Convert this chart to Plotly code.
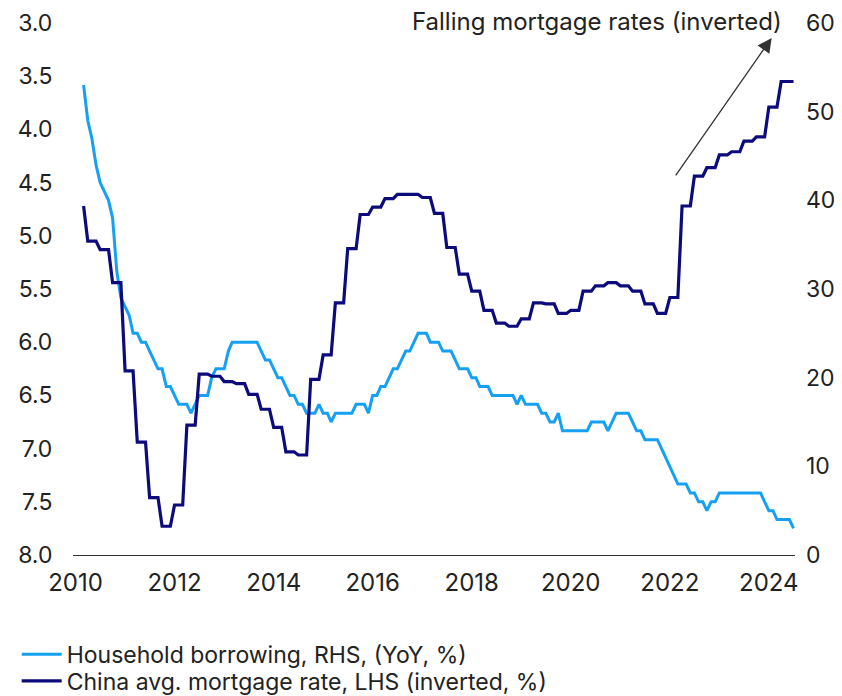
import plotly.graph_objects as go
import pandas as pd

# ---------------- data (monthly, Mar 2010 - Jul 2024) ----------------
first_month = "2010-03-01"

# China average mortgage rate, % (LHS, inverted)
mortgage_rate = [
    4.72,
    5.05, 5.05, 5.05, 5.13, 5.13, 5.13, 5.44, 5.44, 5.44,
    6.27, 6.27, 6.27, 6.94, 6.94, 6.94, 7.46, 7.46, 7.46, 7.73, 7.73, 7.73,
    7.53, 7.53, 7.53, 6.78, 6.78, 6.78, 6.30, 6.30, 6.30, 6.32, 6.32, 6.32,
    6.37, 6.37, 6.37, 6.39, 6.39, 6.39, 6.49, 6.49, 6.49, 6.63, 6.63, 6.63,
    6.80, 6.80, 6.80, 7.03, 7.03, 7.03, 7.06, 7.06, 7.06, 6.35, 6.35, 6.35,
    6.12, 6.12, 6.12, 5.63, 5.63, 5.63, 5.12, 5.12, 5.12, 4.80, 4.80, 4.80,
    4.73, 4.73, 4.73, 4.65, 4.65, 4.65, 4.61, 4.61, 4.61, 4.61, 4.61, 4.61,
    4.64, 4.64, 4.64, 4.79, 4.79, 4.79, 5.11, 5.11, 5.11, 5.36, 5.36, 5.36,
    5.52, 5.52, 5.52, 5.70, 5.70, 5.70, 5.82, 5.82, 5.82, 5.85, 5.85, 5.85,
    5.78, 5.78, 5.78, 5.63, 5.63, 5.63, 5.64, 5.64, 5.64, 5.73, 5.73, 5.73,
    5.70, 5.70, 5.70, 5.52, 5.52, 5.52, 5.47, 5.47, 5.47, 5.44, 5.44, 5.44,
    5.47, 5.47, 5.47, 5.52, 5.52, 5.52, 5.64, 5.64, 5.64, 5.73, 5.73, 5.73,
    5.58, 5.58, 5.58, 4.72, 4.72, 4.72, 4.44, 4.44, 4.44, 4.36, 4.36, 4.36,
    4.24, 4.24, 4.24, 4.21, 4.21, 4.21, 4.11, 4.11, 4.11, 4.07, 4.07, 4.07,
    3.79, 3.79, 3.79, 3.55, 3.55, 3.55, 3.55,
]

# Household borrowing, YoY % (RHS)
household_borrowing = [
    53, 49, 47, 44, 42, 41, 40, 38, 32, 29,
    28, 27, 25, 25, 24, 24, 23, 22, 21, 21,
    19, 19, 18, 17, 17, 17, 16, 17, 18, 18,
    18, 20, 21, 21, 21, 23, 24, 24, 24, 24,
    24, 24, 24, 23, 22, 22, 21, 20, 20, 19,
    18, 18, 17, 17, 16, 16, 16, 17, 16, 16,
    15, 16, 16, 16, 16, 16, 17, 17, 17, 16,
    18, 18, 19, 19, 20, 21, 21, 22, 23, 23,
    24, 25, 25, 25, 24, 24, 24, 23, 23, 23,
    22, 21, 21, 21, 20, 20, 19, 19, 19, 18,
    18, 18, 18, 18, 18, 17, 18, 17, 17, 17,
    17, 16, 16, 15, 15, 16, 14, 14, 14, 14,
    14, 14, 14, 15, 15, 15, 15, 14, 15, 16,
    16, 16, 16, 15, 14, 14, 13, 13, 13, 13,
    12, 11, 10, 9, 8, 8, 8, 7, 7, 6,
    6, 5, 6, 6, 7, 7, 7, 7, 7, 7,
    7, 7, 7, 7, 7, 6, 5, 5, 4, 4,
    4, 4, 3,
]

left_ticks = [3.0, 3.5, 4.0, 4.5, 5.0, 5.5, 6.0, 6.5, 7.0, 7.5, 8.0]
right_ticks = [0, 10, 20, 30, 40, 50, 60]
year_ticks = ["2010-01-01", "2012-01-01", "2014-01-01", "2016-01-01",
              "2018-01-01", "2020-01-01", "2022-01-01", "2024-01-01"]
year_labels = ["2010", "2012", "2014", "2016", "2018", "2020", "2022", "2024"]

name_household = "Household borrowing, RHS, (YoY, %)"
name_mortgage = "China avg. mortgage rate, LHS (inverted, %)"
annotation_text = "Falling mortgage rates (inverted)"

months = pd.date_range(first_month, periods=len(mortgage_rate), freq="MS")

# ---------------- style ----------------
LIGHT = "#16A0F2"
DARK = "#0B0B7C"
TEXT = "#222222"
FONT = "Inter, Roboto, Liberation Sans, sans-serif"

fig = go.Figure()
fig.add_trace(go.Scatter(
    x=months, y=household_borrowing, name=name_household, mode="lines",
    yaxis="y", legend="legend", line=dict(color=LIGHT, width=3)))
fig.add_trace(go.Scatter(
    x=months, y=mortgage_rate, name=name_mortgage, mode="lines",
    yaxis="y2", legend="legend2", line=dict(color=DARK, width=3.2)))

legend_style = dict(
    xanchor="left", yanchor="top", orientation="v",
    font=dict(size=23, color=TEXT), itemwidth=40,
    bgcolor="rgba(0,0,0,0)", borderwidth=0,
)

# page body adds an 8px offset, so the figure is 834x688
fig.update_layout(
    width=834, height=688,
    margin=dict(l=65, r=47, t=15, b=141, autoexpand=False),
    paper_bgcolor="white", plot_bgcolor="white",
    font=dict(family=FONT, color=TEXT, size=23),
    showlegend=True,
    legend=dict(x=-0.078, y=-0.1462, **legend_style),
    legend2=dict(x=-0.078, y=-0.1962, **legend_style),
    xaxis=dict(
        type="date", range=["2009-12-13", "2024-07-12"],
        tickvals=year_ticks, ticktext=year_labels,
        showgrid=False, zeroline=False, ticks="",
        showline=True, linecolor="#333333", linewidth=1.3,
        tickfont=dict(size=24), ticklabelstandoff=6,
    ),
    yaxis=dict(
        side="right", range=[0, 60], tickvals=right_ticks,
        showgrid=False, zeroline=False, ticks="", showline=False,
        tickfont=dict(size=23), ticklabelstandoff=10,
    ),
    yaxis2=dict(
        overlaying="y", side="left", range=[8, 3], tickvals=left_ticks,
        tickformat=".1f", showgrid=False, zeroline=False,
        ticks="outside", ticklen=15, tickcolor="rgba(0,0,0,0)",
        showline=False, tickfont=dict(size=23),
    ),
    annotations=[
        dict(text=annotation_text, xref="paper", yref="paper",
             x=0.9848, y=1.0024, xanchor="right", yanchor="middle",
             showarrow=False, font=dict(size=24, color=TEXT)),
        dict(text="", xref="paper", yref="paper", x=0.9677, y=0.972,
             ax=-97, ay=139, axref="pixel", ayref="pixel",
             showarrow=True, arrowhead=2, arrowsize=2.2, arrowwidth=1.3,
             arrowcolor="#333333", standoff=0),
    ],
)

fig.write_html("out.html")
